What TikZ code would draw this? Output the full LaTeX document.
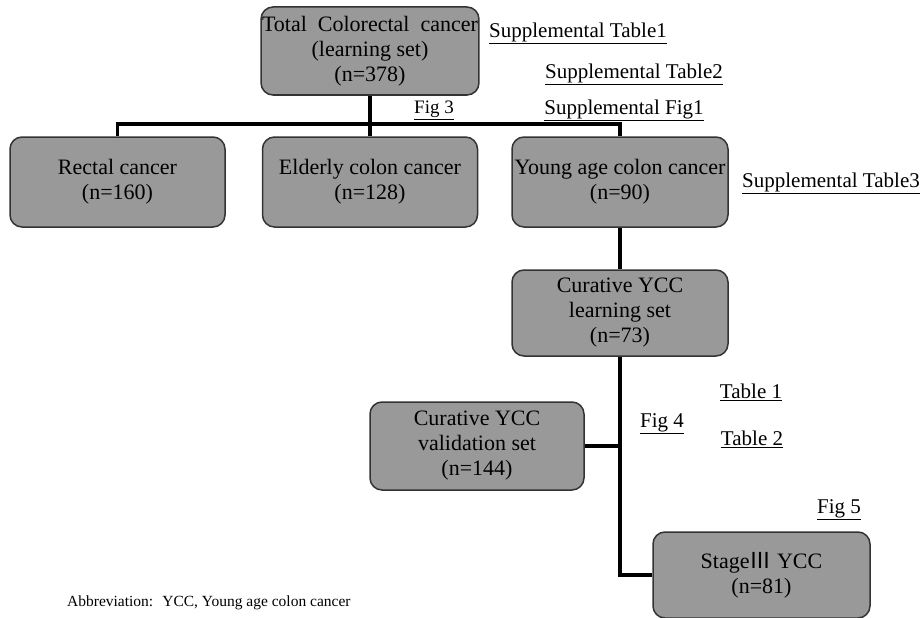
\documentclass[tikz,border=0pt]{standalone}
\usepackage{fontspec}
\setmainfont{Liberation Serif}
\newfontfamily\cjkfont{Noto Sans CJK JP}
\tikzset{
	grpbox/.style={draw=black!80, line width=1.5pt, fill=black!40, rounded corners=12pt,
		minimum width=215pt, minimum height=88pt, align=center, inner sep=1pt,
		font=\fontsize{22}{25}\selectfont},
	link/.style={line width=3.2pt, black},
	reflabel/.style={inner sep=0pt, font=\fontsize{21}{24}\selectfont}
}
\begin{document}
\begin{tikzpicture}[x=1pt, y=-1pt]
		\useasboundingbox (0,0) rectangle (924,618);
		\node[grpbox] (total) at (370,51) {Total~ Colorectal~ cancer\\(learning set)\\(n=378)};
		\node[grpbox, minimum height=90pt] (rectal) at (117.5,182) {Rectal cancer\\(n=160)};
		\node[grpbox, minimum height=90pt] (elderly) at (370,182) {Elderly colon cancer\\(n=128)};
		\node[grpbox, minimum height=90pt, minimum width=216pt] (young) at (620,182) {Young age colon cancer\\(n=90)};
		\node[grpbox, minimum height=86pt, minimum width=216pt] (learning) at (620,313) {Curative YCC\\learning set\\(n=73)};
		\node[grpbox, minimum width=214pt] (validation) at (477,446) {Curative YCC\\validation set\\(n=144)};
		\node[grpbox, minimum height=86pt, minimum width=217pt] (stage) at (761.5,575) {Stage{\cjkfont Ⅲ} YCC\\(n=81)};
		\coordinate (split) at (370,124);
		\draw[link] (total) -- (split);
		\draw[link] (split) -- (elderly);
		\draw[link] (rectal.north) |- (split) -| (young.north);
		\draw[link] (young) -- (learning);
		\draw[link] (learning.south) |- (stage.west);
		\draw[link] (validation.east) -- (validation.east -| learning.south);
		\node[reflabel] (stab1) at (578,33) {\underline{Supplemental Table1}};
		\node[reflabel] (stab2) at (634,74) {\underline{Supplemental Table2}};
		\node[reflabel, font=\fontsize{19}{22}\selectfont] (fig3) at (434,110) {\underline{Fig 3}};
		\node[reflabel] (sfig1) at (624,110) {\underline{Supplemental Fig1}};
		\node[reflabel] (stab3) at (831,183) {\underline{Supplemental Table3}};
		\node[reflabel] (tab1) at (751,392) {\underline{Table 1}};
		\node[reflabel] (fig4) at (662,424) {\underline{Fig 4}};
		\node[reflabel] (tab2) at (752,439) {\underline{Table 2}};
		\node[reflabel] (fig5) at (839,510) {\underline{Fig 5}};
		\node[reflabel, anchor=west, font=\fontsize{15.5}{18}\selectfont] (abbr) at (67,603) {Abbreviation:~ YCC, Young age colon cancer};
	\end{tikzpicture}
\end{document}
